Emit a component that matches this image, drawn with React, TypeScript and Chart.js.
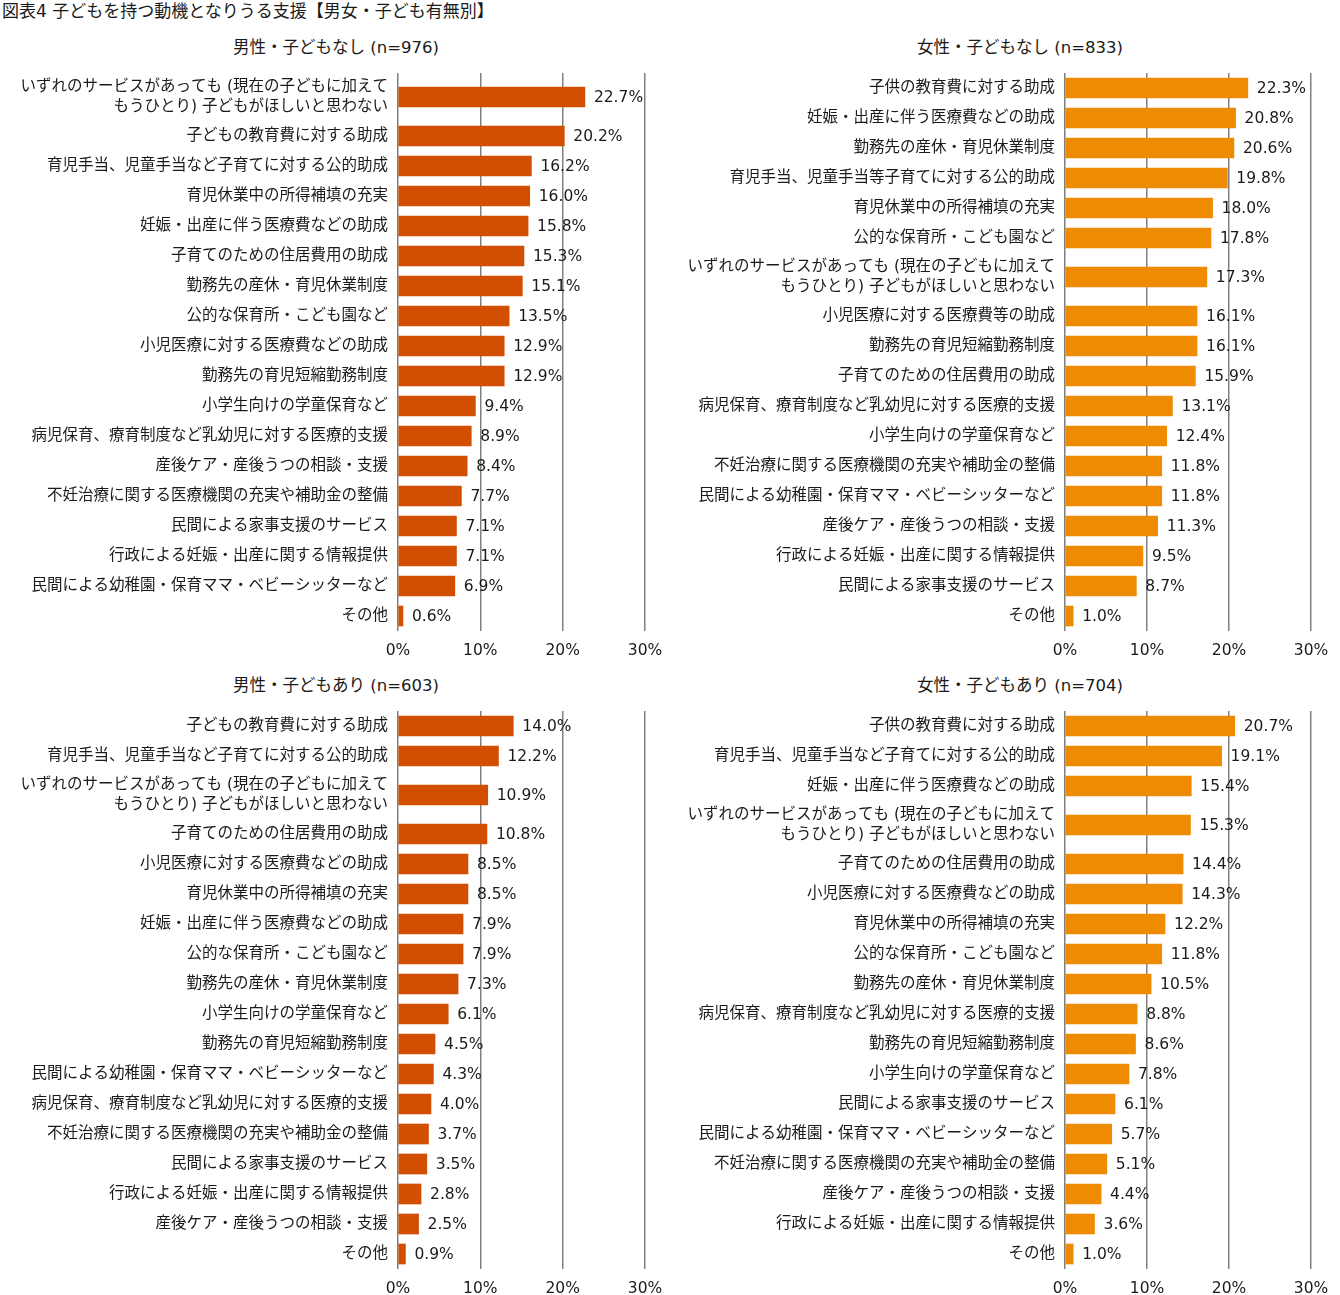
import React, { useEffect, useRef } from "react";
import { Chart, registerables, CategoryScale } from "chart.js";
Chart.register(...registerables);

const MAIN_TITLE = "図表4 子どもを持つ動機となりうる支援【男女・子ども有無別】";
const FONT = '"DejaVu Sans", "Noto Sans CJK JP", sans-serif';
const MALE_COLOR = "#D24E00";
const FEMALE_COLOR = "#EE8B00";
const LONG = ["いずれのサービスがあっても (現在の子どもに加えて", "もうひとり) 子どもがほしいと思わない"];

const tlTitle = "男性・子どもなし (n=976)";
const tlLabels = [
  LONG,
  "子どもの教育費に対する助成",
  "育児手当、児童手当など子育てに対する公的助成",
  "育児休業中の所得補填の充実",
  "妊娠・出産に伴う医療費などの助成",
  "子育てのための住居費用の助成",
  "勤務先の産休・育児休業制度",
  "公的な保育所・こども園など",
  "小児医療に対する医療費などの助成",
  "勤務先の育児短縮勤務制度",
  "小学生向けの学童保育など",
  "病児保育、療育制度など乳幼児に対する医療的支援",
  "産後ケア・産後うつの相談・支援",
  "不妊治療に関する医療機関の充実や補助金の整備",
  "民間による家事支援のサービス",
  "行政による妊娠・出産に関する情報提供",
  "民間による幼稚園・保育ママ・ベビーシッターなど",
  "その他",
];
const tlValues = [22.7, 20.2, 16.2, 16.0, 15.8, 15.3, 15.1, 13.5, 12.9, 12.9, 9.4, 8.9, 8.4, 7.7, 7.1, 7.1, 6.9, 0.6];

const trTitle = "女性・子どもなし (n=833)";
const trLabels = [
  "子供の教育費に対する助成",
  "妊娠・出産に伴う医療費などの助成",
  "勤務先の産休・育児休業制度",
  "育児手当、児童手当等子育てに対する公的助成",
  "育児休業中の所得補填の充実",
  "公的な保育所・こども園など",
  LONG,
  "小児医療に対する医療費等の助成",
  "勤務先の育児短縮勤務制度",
  "子育てのための住居費用の助成",
  "病児保育、療育制度など乳幼児に対する医療的支援",
  "小学生向けの学童保育など",
  "不妊治療に関する医療機関の充実や補助金の整備",
  "民間による幼稚園・保育ママ・ベビーシッターなど",
  "産後ケア・産後うつの相談・支援",
  "行政による妊娠・出産に関する情報提供",
  "民間による家事支援のサービス",
  "その他",
];
const trValues = [22.3, 20.8, 20.6, 19.8, 18.0, 17.8, 17.3, 16.1, 16.1, 15.9, 13.1, 12.4, 11.8, 11.8, 11.3, 9.5, 8.7, 1.0];

const blTitle = "男性・子どもあり (n=603)";
const blLabels = [
  "子どもの教育費に対する助成",
  "育児手当、児童手当など子育てに対する公的助成",
  LONG,
  "子育てのための住居費用の助成",
  "小児医療に対する医療費などの助成",
  "育児休業中の所得補填の充実",
  "妊娠・出産に伴う医療費などの助成",
  "公的な保育所・こども園など",
  "勤務先の産休・育児休業制度",
  "小学生向けの学童保育など",
  "勤務先の育児短縮勤務制度",
  "民間による幼稚園・保育ママ・ベビーシッターなど",
  "病児保育、療育制度など乳幼児に対する医療的支援",
  "不妊治療に関する医療機関の充実や補助金の整備",
  "民間による家事支援のサービス",
  "行政による妊娠・出産に関する情報提供",
  "産後ケア・産後うつの相談・支援",
  "その他",
];
const blValues = [14.0, 12.2, 10.9, 10.8, 8.5, 8.5, 7.9, 7.9, 7.3, 6.1, 4.5, 4.3, 4.0, 3.7, 3.5, 2.8, 2.5, 0.9];

const brTitle = "女性・子どもあり (n=704)";
const brLabels = [
  "子供の教育費に対する助成",
  "育児手当、児童手当など子育てに対する公的助成",
  "妊娠・出産に伴う医療費などの助成",
  LONG,
  "子育てのための住居費用の助成",
  "小児医療に対する医療費などの助成",
  "育児休業中の所得補填の充実",
  "公的な保育所・こども園など",
  "勤務先の産休・育児休業制度",
  "病児保育、療育制度など乳幼児に対する医療的支援",
  "勤務先の育児短縮勤務制度",
  "小学生向けの学童保育など",
  "民間による家事支援のサービス",
  "民間による幼稚園・保育ママ・ベビーシッターなど",
  "不妊治療に関する医療機関の充実や補助金の整備",
  "産後ケア・産後うつの相談・支援",
  "行政による妊娠・出産に関する情報提供",
  "その他",
];
const brValues = [20.7, 19.1, 15.4, 15.3, 14.4, 14.3, 12.2, 11.8, 10.5, 8.8, 8.6, 7.8, 6.1, 5.7, 5.1, 4.4, 3.6, 1.0];

const xTicks = [0, 10, 20, 30];

// Category scale where multi-line labels get a taller slot (as in the original layout).
class WeightedCategoryScale extends (CategoryScale as any) {
  static id = "weightedCategory";
  static defaults = (CategoryScale as any).defaults;
  _slotWeights(): number[] {
    return this.getLabels().map((l: any) => (Array.isArray(l) ? 1 + 0.6 * (l.length - 1) : 1));
  }
  getPixelForValue(value: any) {
    if (typeof value !== "number") value = this.parse(value);
    if (value === null || value === undefined || isNaN(value)) return NaN;
    const w = this._slotWeights();
    const n = w.length;
    const cum = (x: number) => {
      let acc = 0;
      for (let i = 0; i < n; i++) {
        const lo = i - 0.5;
        const hi = i + 0.5;
        if (x >= hi) acc += w[i];
        else {
          if (x > lo) acc += (x - lo) * w[i];
          break;
        }
      }
      return acc;
    };
    const start = this._startValue;
    const end = start + this._valueRange;
    const total = cum(end) - cum(start);
    const d = total ? (cum(value) - cum(start)) / total : 0;
    return this.getPixelForDecimal(d);
  }
}
Chart.register(WeightedCategoryScale as any);

const valueLabelPlugin = {
  id: "valueLabels",
  afterDatasetsDraw(chart: any) {
    const ctx = chart.ctx;
    const meta = chart.getDatasetMeta(0);
    const data = chart.data.datasets[0].data;
    ctx.save();
    ctx.font = `15.5px ${FONT}`;
    ctx.fillStyle = "#1a1a1a";
    ctx.textAlign = "left";
    ctx.textBaseline = "middle";
    meta.data.forEach((el: any, i: number) => {
      ctx.fillText(`${Number(data[i]).toFixed(1)}%`, el.x + 9, el.y + 1);
    });
    ctx.restore();
  },
};

type PanelProps = {
  title: string;
  labels: any[];
  values: number[];
  color: string;
  left: number;
  top: number;
  width: number;
  yWidth: number;
  padRight: number;
  titleCenter: number;
};

function Panel(p: PanelProps) {
  const ref = useRef<HTMLCanvasElement | null>(null);
  const height = 610;
  useEffect(() => {
    if (!ref.current) return;
    const chart = new Chart(ref.current, {
      type: "bar",
      data: {
        labels: p.labels,
        datasets: [{ data: p.values, backgroundColor: p.color, barThickness: 20 }],
      },
      options: {
        indexAxis: "y",
        responsive: false,
        animation: false,
        devicePixelRatio: 1,
        layout: { padding: { top: 13, right: p.padRight, left: 0, bottom: 0 } },
        plugins: { legend: { display: false }, tooltip: { enabled: false }, title: { display: false } },
        scales: {
          x: {
            min: xTicks[0],
            max: xTicks[xTicks.length - 1],
            afterBuildTicks: (s: any) => {
              s.ticks = xTicks.map((v) => ({ value: v }));
            },
            ticks: {
              callback: (v: any) => `${v}%`,
              padding: 11,
              color: "#1a1a1a",
              font: { family: FONT, size: 15.5 },
              maxRotation: 0,
            },
            grid: { color: "#808080", lineWidth: 1.5, drawTicks: false },
            border: { display: false },
            afterFit: (s: any) => {
              s.height = 39;
              s.paddingLeft = 0;
              s.paddingRight = 0;
            },
          },
          y: {
            type: "weightedCategory",
            offset: true,
            ticks: {
              padding: 10,
              color: "#1a1a1a",
              font: { family: FONT, size: 15.5, lineHeight: 1.3 },
              autoSkip: false,
            },
            grid: { display: false, drawTicks: false },
            border: { display: false },
            afterFit: (s: any) => {
              s.width = p.yWidth;
              s.paddingTop = 0;
              s.paddingBottom = 0;
            },
          },
        },
      } as any,
      plugins: [valueLabelPlugin],
    });
    return () => chart.destroy();
  }, []);
  return (
    <>
      <div
        style={{
          position: "absolute",
          left: p.titleCenter - 200,
          width: 400,
          top: p.top - 22,
          textAlign: "center",
          fontFamily: FONT,
          fontSize: "16.5px",
          lineHeight: "20px",
          color: "#1a1a1a",
          whiteSpace: "nowrap",
        }}
      >
        {p.title}
      </div>
      <canvas
        ref={ref}
        width={p.width}
        height={height}
        style={{ position: "absolute", left: p.left, top: p.top, width: p.width, height }}
      />
    </>
  );
}

export default function App() {
  return (
    <div
      style={{
        position: "absolute",
        left: 0,
        top: 0,
        width: 1340,
        height: 1295,
        overflow: "hidden",
        background: "#ffffff",
      }}
    >
      <div
        style={{
          position: "absolute",
          left: 2,
          top: 1,
          fontFamily: FONT,
          fontSize: "17px",
          lineHeight: "20px",
          color: "#1a1a1a",
          whiteSpace: "nowrap",
        }}
      >
        {MAIN_TITLE}
      </div>
      <Panel title={tlTitle} labels={tlLabels} values={tlValues} color={MALE_COLOR}
        left={0} top={60} width={670} yWidth={398} padRight={25} titleCenter={336} />
      <Panel title={trTitle} labels={trLabels} values={trValues} color={FEMALE_COLOR}
        left={680} top={60} width={660} yWidth={385} padRight={29} titleCenter={1020} />
      <Panel title={blTitle} labels={blLabels} values={blValues} color={MALE_COLOR}
        left={0} top={698} width={670} yWidth={398} padRight={25} titleCenter={336} />
      <Panel title={brTitle} labels={brLabels} values={brValues} color={FEMALE_COLOR}
        left={680} top={698} width={660} yWidth={385} padRight={29} titleCenter={1020} />
    </div>
  );
}
